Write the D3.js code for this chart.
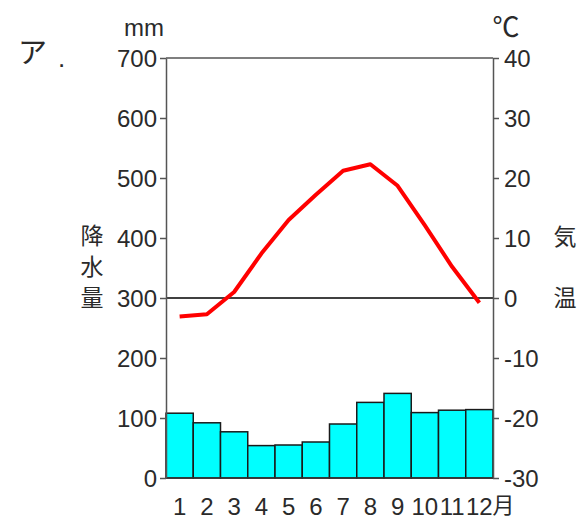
<!DOCTYPE html>
<html>
<head>
<meta charset="utf-8">
<title>雨温図 ア</title>
<script src="https://d3js.org/d3.v7.min.js"></script>
<style>
  body { margin: 0; background: #fff; }
  svg text { font-family: "Liberation Sans", Arial, sans-serif; fill: #2a2a2a; }
  .jp { font-family: "Noto Sans CJK JP", sans-serif; }
  .axis path, .axis line { stroke: #555; stroke-width: 1.5; }
  .axis text { font-size: 24px; }
</style>
</head>
<body>
<div id="chart"></div>
<script>
// data
const months = ["1", "2", "3", "4", "5", "6", "7", "8", "9", "10", "11", "12"]
const precip = [108, 92, 77, 54, 55, 60, 90, 126, 141, 109, 113, 114]  // mm
const temp = [-3.1, -2.7, 1.0, 7.4, 13.0, 17.2, 21.2, 22.3, 18.7, 12.1, 5.2, -0.8]  // ℃
const precipTicks = [0, 100, 200, 300, 400, 500, 600, 700]
const tempTicks = [-30, -20, -10, 0, 10, 20, 30, 40]

const w = 582, h = 520
const plot = { left: 166, right: 493, top: 58, bottom: 478 }

const svg = d3.select("#chart").append("svg")
    .attr("width", w)
    .attr("height", h)

const x = d3.scaleBand().domain(months).range([plot.left, plot.right]).padding(0)
const y = d3.scaleLinear().domain([0, 700]).range([plot.bottom, plot.top])
const yT = d3.scaleLinear().domain([-30, 40]).range([plot.bottom, plot.top])

// bars
svg.append("g").selectAll("rect")
    .data(precip)
    .join("rect")
    .attr("x", (d, i) => x(months[i]))
    .attr("y", d => y(d))
    .attr("width", x.bandwidth())
    .attr("height", d => y(0) - y(d))
    .attr("fill", "#00ffff")
    .attr("stroke", "#1a1a1a")
    .attr("stroke-width", 1.5)

// top border
svg.append("line")
    .attr("x1", plot.left).attr("x2", plot.right)
    .attr("y1", y(700)).attr("y2", y(700))
    .attr("stroke", "#555").attr("stroke-width", 1.5)

// bottom line
svg.append("line")
    .attr("x1", plot.left).attr("x2", plot.right)
    .attr("y1", y(0)).attr("y2", y(0))
    .attr("stroke", "#333").attr("stroke-width", 1.5)

// 0 ℃ line
svg.append("line")
    .attr("x1", plot.left).attr("x2", plot.right)
    .attr("y1", yT(0)).attr("y2", yT(0))
    .attr("stroke", "#000").attr("stroke-width", 1.5)

// axes
svg.append("g")
    .attr("class", "axis")
    .attr("transform", "translate(" + plot.left + ",0)")
    .call(d3.axisLeft(y).tickValues(precipTicks).tickSize(6).tickSizeOuter(0).tickPadding(3)
        .tickFormat(d => String(d)))

svg.append("g")
    .attr("class", "axis")
    .attr("transform", "translate(" + plot.right + ",0)")
    .call(d3.axisRight(yT).tickValues(tempTicks).tickSize(6).tickSizeOuter(0).tickPadding(5)
        .tickFormat(d => String(d)))

svg.selectAll(".axis text").attr("fill", "#2a2a2a").attr("dy", "0.36em")

// temperature line
const line = d3.line()
    .x((d, i) => x(months[i]) + x.bandwidth() / 2)
    .y(d => yT(d))

svg.append("path")
    .datum(temp)
    .attr("d", line)
    .attr("fill", "none")
    .attr("stroke", "#ff0000")
    .attr("stroke-width", 4)
    .attr("stroke-linejoin", "round")

// month labels
svg.append("g").selectAll("text")
    .data(months)
    .join("text")
    .attr("x", d => x(d) + x.bandwidth() / 2)
    .attr("y", 515)
    .attr("text-anchor", "middle")
    .attr("font-size", 24)
    .text(d => d)

svg.append("text")
    .attr("class", "jp")
    .attr("x", x("12") + x.bandwidth() / 2 + 13)
    .attr("y", 513)
    .attr("font-size", 22)
    .text("月")

// units
svg.append("text")
    .attr("x", 144).attr("y", 36)
    .attr("text-anchor", "middle")
    .attr("font-size", 24)
    .text("mm")

svg.append("text")
    .attr("class", "jp")
    .attr("x", 506).attr("y", 37)
    .attr("text-anchor", "middle")
    .attr("font-size", 27)
    .text("℃")

// axis titles
const leftTitle = ["降", "水", "量"]
svg.append("g").selectAll("text")
    .data(leftTitle)
    .join("text")
    .attr("class", "jp")
    .attr("x", 92)
    .attr("y", (d, i) => 244 + i * 31)
    .attr("text-anchor", "middle")
    .attr("font-size", 23)
    .text(d => d)

const rightTitle = ["気", "温"]
svg.append("g").selectAll("text")
    .data(rightTitle)
    .join("text")
    .attr("class", "jp")
    .attr("x", 565)
    .attr("y", (d, i) => 245 + i * 61)
    .attr("text-anchor", "middle")
    .attr("font-size", 23)
    .text(d => d)

// panel label
svg.append("text")
    .attr("class", "jp")
    .attr("x", 18).attr("y", 63)
    .attr("font-size", 29)
    .text("ア")

svg.append("text")
    .attr("x", 58).attr("y", 67)
    .attr("font-size", 26)
    .text(".")
</script>
</body>
</html>
